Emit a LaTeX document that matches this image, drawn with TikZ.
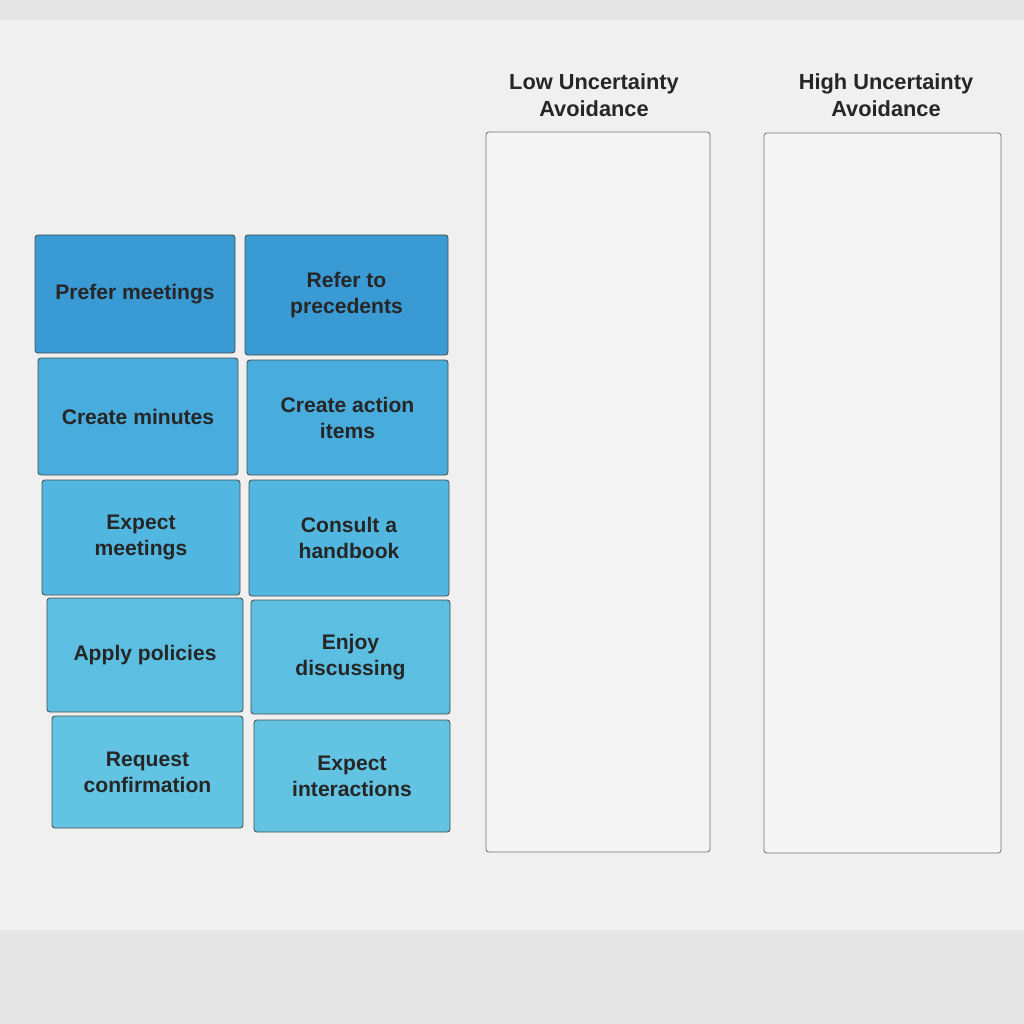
\documentclass[tikz,border=0pt]{standalone}
\usepackage{fontspec}
\setmainfont{Liberation Sans}
\begin{document}
\begin{tikzpicture}[x=0.025cm,y=-0.025cm,
  tile/.style={draw=black!70,rounded corners=2pt,line width=0.6pt,text=black!85,align=center,font=\bfseries\fontsize{15}{18.5}\selectfont},
  colbox/.style={draw=black!55,rounded corners=2pt,line width=0.6pt,fill=white!96!black},
  ttl/.style={align=center,text=black!85,font=\bfseries\fontsize{15.5}{19}\selectfont}]
\fill[black!10] (0,0) rectangle (1024,1024);
\fill[black!6] (0,20) rectangle (1024,930);
\definecolor{t1}{HTML}{3A9AD4}\definecolor{t2}{HTML}{48ACDC}\definecolor{t3}{HTML}{52B7E0}\definecolor{t4}{HTML}{5CBFE2}\definecolor{t5}{HTML}{62C3E2}
\newcommand{\tl}[7]{\path[tile,fill=#6] (#1,#2) rectangle (#3,#4) node[midway] (#7) {#5};}
\tl{35}{235}{235}{353}{Prefer meetings}{t1}{a1}
\tl{38}{358}{238}{475}{Create minutes}{t2}{a2}
\tl{42}{480}{240}{595}{Expect\\meetings}{t3}{a3}
\tl{47}{598}{243}{712}{Apply policies}{t4}{a4}
\tl{52}{716}{243}{828}{Request\\confirmation}{t5}{a5}
\tl{245}{235}{448}{355}{Refer to\\precedents}{t1}{b1}
\tl{247}{360}{448}{475}{Create action\\items}{t2}{b2}
\tl{249}{480}{449}{596}{Consult a\\handbook}{t3}{b3}
\tl{251}{600}{450}{714}{Enjoy\\discussing}{t4}{b4}
\tl{254}{720}{450}{832}{Expect\\interactions}{t5}{b5}
\path[colbox] (486,132) rectangle (710,852);
\path[colbox] (764,133) rectangle (1001,853);
\node[ttl] (lt) at (594,95) {Low Uncertainty\\Avoidance};
\node[ttl] (ht) at (886,95) {High Uncertainty\\Avoidance};
\end{tikzpicture}
\end{document}
